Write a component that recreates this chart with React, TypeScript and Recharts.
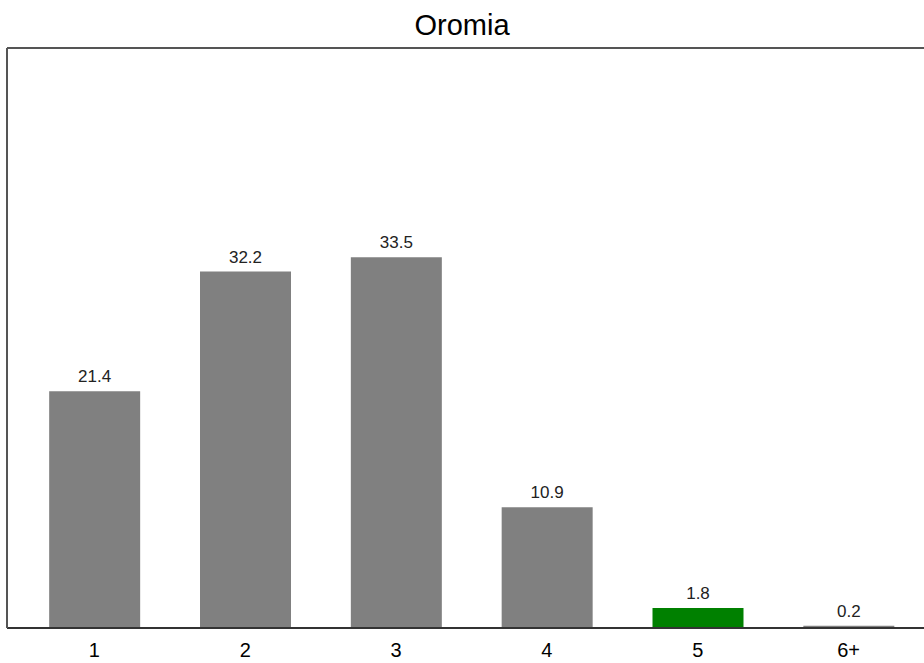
import { BarChart, Bar, XAxis, YAxis, LabelList, Cell } from 'recharts'

const categories = ['1', '2', '3', '4', '5', '6+']
const shares = [21.4, 32.2, 33.5, 10.9, 1.8, 0.2]
const highlight = '5'

const data = categories.map((c, i) => ({ name: c, value: shares[i] }))

export default function App() {
  return (
    <div
      style={{
        position: 'fixed',
        left: 0,
        top: 0,
        width: 924,
        height: 663,
        overflow: 'hidden',
        background: '#fff',
        fontFamily: 'Liberation Sans, Arial, sans-serif',
      }}
    >
      <div
        style={{
          position: 'absolute',
          top: 8,
          width: 924,
          textAlign: 'center',
          fontSize: 29,
          color: '#000',
          lineHeight: '34px',
        }}
      >
        Oromia
      </div>
      <BarChart
        width={944}
        height={663}
        data={data}
        margin={{ top: 47, right: 7, bottom: 0, left: 6 }}
        barCategoryGap="20%"
      >
        <XAxis
          dataKey="name"
          padding={{ left: 12, right: 12 }}
          tickLine={false}
          axisLine={{ stroke: '#333', strokeWidth: 2 }}
          tick={{ fill: '#000', fontSize: 20 }}
          tickMargin={9}
          height={35}
          interval={0}
        />
        <XAxis
          xAxisId="top"
          orientation="top"
          dataKey="name"
          tick={false}
          tickLine={false}
          height={1}
          axisLine={{ stroke: '#555', strokeWidth: 2 }}
        />
        <YAxis
          domain={[0, 52.4]}
          width={1}
          tick={false}
          tickLine={false}
          axisLine={{ stroke: '#555', strokeWidth: 2 }}
        />
        <YAxis
          yAxisId="right"
          orientation="right"
          width={1}
          tick={false}
          tickLine={false}
          axisLine={{ stroke: '#555', strokeWidth: 2 }}
        />
        <Bar dataKey="value" isAnimationActive={false}>
          {data.map((d) => (
            <Cell key={d.name} fill={d.name === highlight ? '#008000' : '#808080'} />
          ))}
          <LabelList dataKey="value" position="top" offset={9} fill="#222" fontSize={17} />
        </Bar>
      </BarChart>
    </div>
  )
}
